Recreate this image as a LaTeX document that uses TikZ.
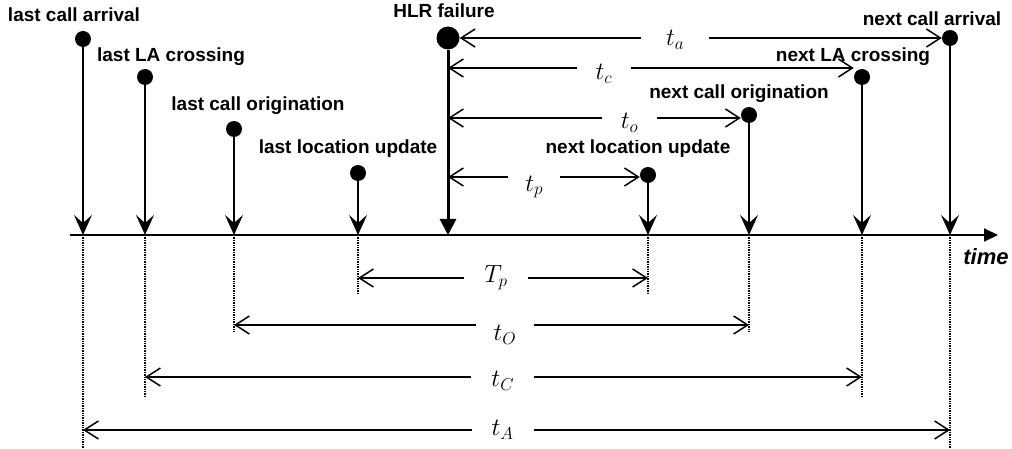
\documentclass[tikz,border=0pt]{standalone}
\usepackage{fontspec}
\setmainfont{Liberation Sans}
\usetikzlibrary{arrows.meta}

\tikzset{
  event/.style={font=\fontsize{19}{22}\selectfont\bfseries, inner sep=0pt, anchor=base},
  evdot/.style={circle, fill=black, minimum size=16pt, inner sep=0pt},
  bigdot/.style={evdot, minimum size=23pt},
  drop/.style={line width=1.6pt, -{Stealth[length=20pt,width=18pt,inset=8pt]}},
  hlrdrop/.style={line width=3pt, -{Triangle[length=16pt,width=16pt]}},
  dimline/.style={line width=1.5pt,
    {Straight Barb[length=14pt,width=18pt]}-{Straight Barb[length=14pt,width=18pt]}},
  guide/.style={line width=1.4pt, densely dotted},
  lbl/.style={fill=white, font=\fontsize{23}{26}\selectfont, inner xsep=22pt, inner ysep=7pt}
}

\begin{document}
\begin{tikzpicture}[x=1pt, y=-1pt]
  \useasboundingbox (0,0) rectangle (1012,449);

  % time axis
  \coordinate (axisL) at (70,235);
  \coordinate (axisR) at (998,235);
  \draw[line width=2pt, -{Triangle[length=14pt,width=13pt]}] (axisL) -- (axisR);
  \node[font=\fontsize{22}{24}\selectfont\bfseries\itshape, anchor=base] (time) at (986,265) {time};

  % events before the failure
  \node[evdot] (lca)  at (83,39)   {};
  \node[evdot] (llac) at (145,77)  {};
  \node[evdot] (lco)  at (234,129) {};
  \node[evdot] (llu)  at (358,173) {};
  % the failure itself
  \node[bigdot] (hlr) at (448,38) {};
  % events after the failure
  \node[evdot] (nlu)  at (648,175) {};
  \node[evdot] (nco)  at (749,115) {};
  \node[evdot] (nlac) at (862,77)  {};
  \node[evdot] (nca)  at (950,38)  {};

  % event names
  \node[event] (lcaText)  at (74,22)   {last call arrival};
  \node[event] (llacText) at (171,62)  {last LA crossing};
  \node[event] (lcoText)  at (258,111) {last call origination};
  \node[event] (lluText)  at (348,154) {last location update};
  \node[event] (hlrText)  at (444,18)  {HLR failure};
  \node[event] (nluText)  at (638,154) {next location update};
  \node[event] (ncoText)  at (739,99)  {next call origination};
  \node[event] (nlacText) at (853,62)  {next LA crossing};
  \node[event] (ncaText)  at (932,26)  {next call arrival};

  % drops onto the axis
  \foreach \n in {lca,llac,lco,llu,nlu,nco,nlac,nca}
    \draw[drop] (\n) -- (\n |- axisL);
  \draw[hlrdrop] (hlr) -- (hlr |- axisL);

  % dotted guides below the axis
  \foreach \n/\y in {lca/449, llac/396, lco/332, llu/293, nlu/293, nco/332, nlac/396, nca/449}
    \draw[guide] (\n |- axisL) -- (\n |- 0,\y);

  % residual times from the failure
  \coordinate (lvC) at (0,68);
  \coordinate (lvO) at (0,118);
  \coordinate (lvP) at (0,177);
  \draw[dimline] (hlr) -- node[lbl, pos=0.447, inner xsep=25pt, yshift=-2pt] {$t_a$} (nca);
  \draw[dimline] (hlr |- lvC) -- node[lbl, pos=0.384, inner xsep=19pt, yshift=-6pt] {$t_c$} (nlac.west |- lvC);
  \draw[dimline] (hlr |- lvO) -- node[lbl, pos=0.62, inner xsep=19pt, yshift=-5pt] {$t_o$} (nco.west |- lvO);
  \draw[dimline] (hlr |- lvP) -- node[lbl, pos=0.45, inner xsep=17pt, yshift=-10pt] {$t_p$} (nlu.west |- lvP);

  % full intervals between events
  \coordinate (lvTp) at (0,278);
  \coordinate (lvTo) at (0,325);
  \coordinate (lvTc) at (0,377);
  \coordinate (lvTa) at (0,430);
  \draw[dimline] (llu |- lvTp) -- node[lbl, pos=0.476, inner xsep=20pt] {$T_p$} (nlu |- lvTp);
  \draw[dimline] (lco |- lvTo) -- node[lbl, pos=0.526, inner xsep=18pt, yshift=-10pt] {$t_O$} (nco |- lvTo);
  \draw[dimline] (llac |- lvTc) -- node[lbl, pos=0.499, inner xsep=20pt, yshift=-4pt] {$t_C$} (nlac |- lvTc);
  \draw[dimline] (lca |- lvTa) -- node[lbl, pos=0.484, inner xsep=20pt] {$t_A$} (nca |- lvTa);
\end{tikzpicture}
\end{document}
